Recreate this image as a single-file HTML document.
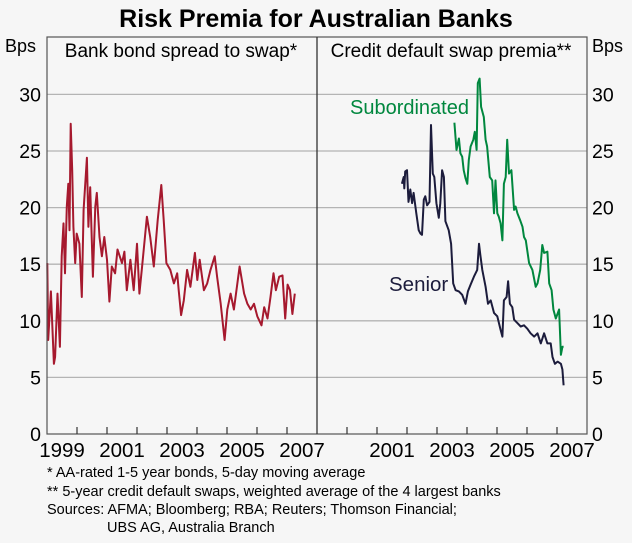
<!DOCTYPE html>
<html><head><meta charset="utf-8"><style>
html,body{margin:0;padding:0;background:#f6f6f6;}
svg{display:block;font-family:"Liberation Sans",Arial,sans-serif;}
</style></head><body>
<svg id="chart" width="632" height="543" viewBox="0 0 632 543">
<rect x="0" y="0" width="632" height="543" fill="#f6f6f6"/>
<text x="316" y="27" text-anchor="middle" font-size="25" font-weight="bold" fill="#000">Risk Premia for Australian Banks</text>
<g id="grid"></g>
<g id="series"></g>
<g id="axes"></g>
<text x="181" y="57" text-anchor="middle" font-size="19" fill="#000">Bank bond spread to swap*</text>
<text x="451" y="57" text-anchor="middle" font-size="19" fill="#000">Credit default swap premia**</text>
<text x="5" y="52" font-size="18" fill="#000">Bps</text>
<text x="592" y="52" font-size="18" fill="#000">Bps</text>
<text x="350" y="114" font-size="20" fill="#00873e">Subordinated</text>
<text x="389" y="291" font-size="20.5" fill="#1c1c3c">Senior</text>
<g font-size="14.5" fill="#000">
<text x="47" y="477">*   AA-rated 1-5 year bonds, 5-day moving average</text>
<text x="47" y="496">** 5-year credit default swaps, weighted average of the 4 largest banks</text>
<text x="47" y="514">Sources: AFMA; Bloomberg; RBA; Reuters; Thomson Financial;</text>
<text x="107" y="532">UBS AG, Australia Branch</text>
</g>
</svg>
<script>
const yTicks=[0,5,10,15,20,25,30];
const xLabels=[1999,2001,2003,2005,2007];
const xLabelsRight=[2001,2003,2005,2007];
const bondDates=[1999.01,1999.04,1999.13,1999.23,1999.27,1999.35,1999.43,1999.49,1999.55,1999.60,1999.66,1999.71,1999.75,1999.79,1999.84,1999.88,1999.94,1999.99,2000.08,2000.16,2000.22,2000.33,2000.38,2000.44,2000.53,2000.61,2000.66,2000.75,2000.83,2000.91,2001.00,2001.08,2001.16,2001.27,2001.35,2001.50,2001.58,2001.66,2001.78,2001.89,2002.00,2002.08,2002.17,2002.33,2002.44,2002.56,2002.69,2002.81,2002.89,2002.98,2003.11,2003.23,2003.34,2003.39,2003.47,2003.56,2003.67,2003.78,2003.93,2004.01,2004.09,2004.23,2004.34,2004.45,2004.59,2004.67,2004.79,2004.92,2005.01,2005.12,2005.23,2005.42,2005.57,2005.68,2005.79,2005.90,2006.01,2006.15,2006.24,2006.35,2006.45,2006.55,2006.63,2006.74,2006.85,2006.94,2007.02,2007.10,2007.18,2007.26];
const bondValues=[15.1,8.3,12.6,6.2,6.8,12.4,7.7,15.7,18.6,14.2,20.1,22.1,18.0,27.4,23.3,18.3,15.1,17.7,16.8,12.1,19.8,24.4,18.3,21.8,13.9,20.1,21.3,17.4,15.7,17.4,15.4,11.7,14.8,14.2,16.3,15.1,16.1,12.7,15.4,12.7,16.8,12.4,14.8,19.2,17.4,14.8,18.9,22.0,18.9,15.1,14.5,13.3,14.2,12.7,10.5,11.8,14.5,13.0,16.0,13.6,15.4,12.7,13.3,14.5,15.7,13.9,11.5,8.3,11.0,12.4,11.0,14.8,12.4,11.5,11.0,11.5,10.4,9.6,11.2,10.2,12.1,14.2,12.7,13.9,14.0,10.2,13.2,12.7,10.6,12.4];
const seniorDates=[2001.83,2001.89,2001.91,2001.94,2002.00,2002.05,2002.11,2002.17,2002.22,2002.31,2002.39,2002.45,2002.50,2002.56,2002.61,2002.67,2002.75,2002.80,2002.86,2002.91,2002.98,2003.06,2003.11,2003.17,2003.23,2003.28,2003.39,2003.47,2003.54,2003.62,2003.73,2003.84,2003.95,2004.03,2004.12,2004.23,2004.34,2004.40,2004.45,2004.51,2004.62,2004.70,2004.79,2004.90,2005.01,2005.12,2005.18,2005.23,2005.32,2005.37,2005.43,2005.51,2005.57,2005.68,2005.79,2005.90,2006.01,2006.12,2006.24,2006.35,2006.46,2006.57,2006.68,2006.79,2006.85,2006.93,2007.02,2007.13,2007.18,2007.22];
const seniorValues=[22.1,22.7,21.7,23.2,23.3,20.5,21.6,20.4,21.3,19.5,18.0,17.7,17.6,20.7,21.0,20.2,20.5,27.3,23.0,22.7,20.4,19.1,20.4,23.3,22.7,18.8,18.0,16.8,13.3,12.7,12.6,12.3,11.5,12.6,13.2,13.9,14.5,16.8,15.7,14.5,13.0,11.5,11.8,10.7,10.4,9.2,8.6,11.8,12.1,13.5,11.5,11.2,10.1,9.8,9.5,9.6,9.3,8.9,8.6,8.9,8.0,8.9,8.0,8.0,6.8,6.2,6.4,6.2,5.7,4.3];
const subDates=[2003.58,2003.65,2003.73,2003.78,2003.84,2003.89,2003.95,2004.01,2004.06,2004.12,2004.21,2004.26,2004.32,2004.36,2004.42,2004.47,2004.56,2004.62,2004.67,2004.76,2004.84,2004.90,2004.95,2005.01,2005.06,2005.12,2005.18,2005.23,2005.29,2005.34,2005.40,2005.48,2005.57,2005.62,2005.68,2005.77,2005.85,2005.90,2005.96,2006.07,2006.18,2006.29,2006.35,2006.44,2006.51,2006.57,2006.68,2006.74,2006.82,2006.88,2006.96,2007.07,2007.13,2007.18,2007.22];
const subValues=[27.5,25.1,26.1,24.8,24.5,23.3,22.6,22.1,24.2,25.4,26.0,26.7,25.1,31.0,31.4,28.9,28.0,26.0,25.4,22.7,22.4,19.5,22.4,19.5,19.2,18.6,17.1,22.1,22.7,26.0,23.0,23.3,19.8,20.1,19.5,18.9,18.3,17.4,17.1,15.1,14.5,13.0,13.3,14.5,16.7,16.0,16.1,13.3,12.7,11.0,10.2,11.0,7.0,7.7,7.7];

const NS='http://www.w3.org/2000/svg';
const L=47,M=317,R=587,T=37,B=434;
const yearW=(M-L)/9;
function y(v){return B-v*(B-94.4)/30;}
function xLeft(d){return L+(d-1999)*yearW;}
function xRight(d){return M+(d-1999)*yearW;}
function mk(tag,attrs,parent){const e=document.createElementNS(NS,tag);for(const k in attrs)e.setAttribute(k,attrs[k]);parent.appendChild(e);return e;}
const grid=document.getElementById('grid'),axes=document.getElementById('axes'),ser=document.getElementById('series');
yTicks.forEach(v=>{
 if(v>0){const g=mk('line',{x1:L,x2:R,y1:y(v),y2:y(v),stroke:'#b4b4b4','stroke-width':1.3},grid);
 
 }
 const t1=mk('text',{x:41,y:y(v)+7,'text-anchor':'end','font-size':19.5,fill:'#000'},axes);t1.textContent=v;
 
 
 const t2=mk('text',{x:592,y:y(v)+7,'font-size':19.5,fill:'#000'},axes);t2.textContent=v;
 
 
});
const frame=mk('rect',{x:L,y:T,width:R-L,height:B-T,fill:'none',stroke:'#555','stroke-width':1.2},axes);


const div=mk('line',{x1:M,x2:M,y1:T,y2:B,stroke:'#333','stroke-width':1.3},axes);


for(let i=1;i<9;i++){
 [L,M].forEach(o=>{const tk=mk('line',{x1:o+i*yearW,x2:o+i*yearW,y1:B,y2:B-7,stroke:'#333','stroke-width':1.2},axes);
 
 });
}
xLabels.forEach(yr=>{const t=mk('text',{x:xLeft(yr+0.5),y:457,'text-anchor':'middle','font-size':20.5,fill:'#000'},axes);t.textContent=yr;
 
 });
xLabelsRight.forEach(yr=>{const t=mk('text',{x:xRight(yr+0.5),y:457,'text-anchor':'middle','font-size':20.5,fill:'#000'},axes);t.textContent=yr;
 
 });
function line(dates,vals,fx,color,name){
 const d=dates.map((dt,i)=>(i?'L':'M')+fx(dt).toFixed(1)+','+y(vals[i]).toFixed(1)).join('');
 const p=mk('path',{d:d,fill:'none',stroke:color,'stroke-width':2,'stroke-linejoin':'round'},ser);
 
 
}
line(bondDates,bondValues,xLeft,'#a6192e','bank-bond-spread-line');
line(subDates,subValues,xRight,'#00873e','subordinated-cds-line');
line(seniorDates,seniorValues,xRight,'#1c1c3c','senior-cds-line');
</script>
</body></html>
